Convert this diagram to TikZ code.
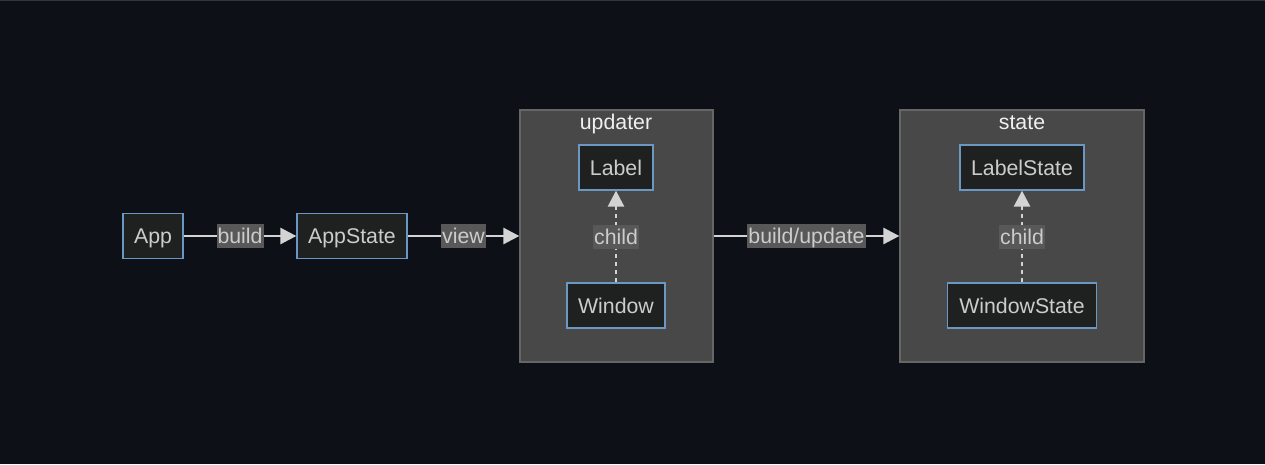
\documentclass[tikz,border=0pt]{standalone}
\usepackage{fontspec}
\setmainfont{Liberation Sans}
\usetikzlibrary{arrows.meta}

\definecolor{bgcol}{HTML}{0D1117}
\definecolor{topline}{HTML}{30363D}
\definecolor{grpfill}{HTML}{484848}
\definecolor{grpline}{HTML}{666666}
\definecolor{boxfill}{HTML}{1F2020}
\definecolor{boxline}{HTML}{6A98C2}
\definecolor{txtgray}{HTML}{CCCCCC}
\definecolor{lblfill}{HTML}{585858}
\definecolor{linegray}{HTML}{D3D3D3}

\begin{document}
\begin{tikzpicture}[
        x=1pt, y=-1pt,
        box/.style={draw=boxline, fill=boxfill, line width=1.3pt, minimum height=45pt,
                    inner sep=0pt, text=txtgray, text height=17.5pt, text depth=2.5pt,
                    font=\fontsize{21.3}{25}\selectfont},
        grp/.style={draw=grpline, fill=grpfill, line width=1.3pt, inner sep=0pt,
                    minimum width=#1, minimum height=252pt},
        title/.style={text=white!94!black, font=\fontsize{21.3}{25}\selectfont, inner sep=0pt,
                      text height=17.5pt, text depth=2.5pt},
        lbl/.style={fill=lblfill, text=txtgray, inner sep=1pt, text height=18.5pt,
                    text depth=3.5pt, font=\fontsize{21.3}{25}\selectfont},
        arr/.style={-{Triangle[length=16pt, width=16pt]}, line width=2.7pt, linegray},
        dot/.style={arr, dash pattern=on 4pt off 4pt},
    ]
        \fill[bgcol] (0,0) rectangle (1265,464);
        \useasboundingbox (0,0) rectangle (1265,464);
        \draw[topline, line width=1pt] (0,0.5) -- (1265,0.5);

        % clusters
        \node[grp=193pt] (updater) at (616.5, 236) {};
        \node[title] (updater-t) at (616, 122) {updater};
        \node[grp=244pt] (state) at (1022, 236) {};
        \node[title] (state-t) at (1022, 122) {state};

        % nodes
        \node[box, minimum width=60pt] (app) at (153, 236) {App};
        \node[box, minimum width=110pt] (appstate) at (352, 236) {AppState};
        \node[box, minimum width=74pt] (label) at (616, 167.5) {Label};
        \node[box, minimum width=98pt] (window) at (616, 305.5) {Window};
        \node[box, minimum width=124pt] (labelstate) at (1022, 167.5) {LabelState};
        \node[box, minimum width=149pt] (windowstate) at (1022, 305.5) {WindowState};

        % edges
        \draw[arr] (app) -- node[lbl, pos=0.5] (build) {build} (appstate);
        \draw[arr] (appstate) -- node[lbl, pos=0.5] (view) {view} (updater.west);
        \draw[arr] (updater.east) -- node[lbl, pos=0.5] (buildupd) {build/update} (state.west);
        \draw[dot] (window) -- node[lbl, pos=0.5] (child-a) {child} (label);
        \draw[dot] (windowstate) -- node[lbl, pos=0.5] (child-b) {child} (labelstate);
    \end{tikzpicture}
\end{document}
